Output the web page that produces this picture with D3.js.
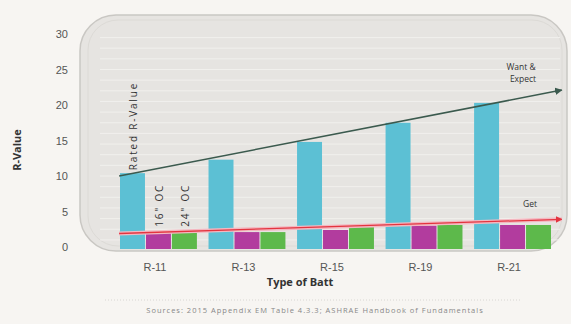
<!DOCTYPE html>
<html>
<head>
<meta charset="utf-8">
<script src="https://cdn.jsdelivr.net/npm/d3@7/dist/d3.min.js"></script>
<style>
    body { margin: 0; background: #f7f5f2; }
    svg { display: block; font-family: "Open Sans", "DejaVu Sans", sans-serif; }
    .axis text { fill: #555; font-size: 11px; }
    .axis path { display: none; }
</style>
</head>
<body>
<svg id="chart" width="571" height="324"></svg>
<script>
// categories and series
const battTypes = ["R-11", "R-13", "R-15", "R-19", "R-21"];
const seriesNames = ["Rated R-Value", "16\" OC", "24\" OC"];
const ratedValues = [10.4, 12.3, 14.8, 17.5, 20.3];
const oc16Values = [2.0, 2.1, 2.4, 3.0, 3.1];
const oc24Values = [2.0, 2.1, 2.8, 3.1, 3.1];
const yTicks = [0, 5, 10, 15, 20, 25, 30];

// trend arrows, x given as position along the category index
const wantLine = [{i: -0.45, v: 10.0}, {i: 4.55, v: 22.1}];
const getLine = [{i: -0.45, v: 1.9}, {i: 4.55, v: 3.9}];

const colors = ["#5cc0d4", "#b23c9e", "#5db94b"];

const svg = d3.select("#chart");

const x0 = d3.scaleBand()
    .domain(battTypes)
    .range([120, 552])
    .paddingInner(0.12);

const x1 = d3.scaleBand()
    .domain(seriesNames)
    .range([0, x0.bandwidth()]);

const y = d3.scaleLinear()
    .domain([0, 30])
    .range([247, 34]);

// index scale for the trend lines
const xi = d3.scaleLinear()
    .domain([0, battTypes.length - 1])
    .range([x0(battTypes[0]) + x0.bandwidth() / 2, x0(battTypes[4]) + x0.bandwidth() / 2]);

// panel
svg.append("rect")
    .attr("x", 80).attr("y", 15)
    .attr("width", 487).attr("height", 236)
    .attr("rx", 36).attr("ry", 36)
    .attr("fill", "#e6e4e1")
    .attr("stroke", "#c9c7c3")
    .attr("stroke-width", 1.5);

svg.append("rect")
    .attr("x", 88).attr("y", 20)
    .attr("width", 474).attr("height", 226)
    .attr("rx", 30).attr("ry", 30)
    .attr("fill", "none")
    .attr("stroke", "#dcdad6")
    .attr("stroke-width", 1);

// faint horizontal grid
svg.append("g")
    .selectAll("line")
    .data(d3.range(1, 30, 1.5))
    .enter()
    .append("line")
    .attr("x1", 100).attr("x2", 560)
    .attr("y1", d => y(d)).attr("y2", d => y(d))
    .attr("stroke", "#f1f0ed")
    .attr("stroke-width", 1);

// bars
const rows = battTypes.map((t, k) => ({
    type: t,
    values: [ratedValues[k], oc16Values[k], oc24Values[k]]
}));

svg.append("g")
    .selectAll("g")
    .data(rows)
    .enter()
    .append("g")
    .attr("transform", d => `translate(${x0(d.type)},0)`)
    .selectAll("rect")
    .data(d => d.values.map((v, j) => ({name: seriesNames[j], value: v, j})))
    .enter()
    .append("rect")
    .attr("x", d => x1(d.name))
    .attr("y", d => y(d.value))
    .attr("width", x1.bandwidth() - 1)
    .attr("height", d => 249 - y(d.value))
    .attr("fill", d => colors[d.j]);

// arrows
const defs = svg.append("defs");
[["arrowWant", "#3b5a4e"], ["arrowGet", "#e3343f"]].forEach(([id, c]) => {
    defs.append("marker")
        .attr("id", id)
        .attr("viewBox", "0 0 10 10")
        .attr("refX", 9).attr("refY", 5)
        .attr("markerWidth", 5).attr("markerHeight", 5)
        .attr("orient", "auto")
        .append("path")
        .attr("d", "M0,0L10,5L0,10Z")
        .attr("fill", c);
});

const line = d3.line().x(d => xi(d.i)).y(d => y(d.v));

svg.append("path")
    .datum(getLine)
    .attr("d", line)
    .attr("fill", "none")
    .attr("stroke", "#f4b7c0")
    .attr("stroke-width", 4);

svg.append("path")
    .datum(getLine)
    .attr("d", line)
    .attr("fill", "none")
    .attr("stroke", "#e3343f")
    .attr("stroke-width", 1.3)
    .attr("marker-end", "url(#arrowGet)");

svg.append("path")
    .datum(wantLine)
    .attr("d", line)
    .attr("fill", "none")
    .attr("stroke", "#3b5a4e")
    .attr("stroke-width", 1.5)
    .attr("marker-end", "url(#arrowWant)");

// axes
svg.append("g")
    .attr("class", "axis")
    .attr("transform", "translate(70,0)")
    .call(d3.axisLeft(y).tickValues(yTicks).tickSize(0).tickPadding(2));

svg.append("g")
    .attr("class", "axis")
    .attr("transform", "translate(-4,260)")
    .call(d3.axisBottom(x0).tickSize(0).tickPadding(3));

svg.append("text")
    .attr("transform", "translate(21,150) rotate(-90)")
    .attr("text-anchor", "middle")
    .attr("font-size", 11)
    .attr("font-weight", "bold")
    .attr("fill", "#333")
    .text("R-Value");

svg.append("text")
    .attr("x", 300).attr("y", 286)
    .attr("text-anchor", "middle")
    .attr("font-size", 11)
    .attr("font-weight", "bold")
    .attr("fill", "#333")
    .text("Type of Batt");

svg.append("line")
    .attr("x1", 105).attr("x2", 520)
    .attr("y1", 300).attr("y2", 300)
    .attr("stroke", "#d8d6d2")
    .attr("stroke-dasharray", "1,2");

svg.append("text")
    .attr("x", 315).attr("y", 313)
    .attr("text-anchor", "middle")
    .attr("font-size", 7.5)
    .attr("letter-spacing", 1)
    .attr("fill", "#888")
    .text("Sources: 2015 Appendix EM Table 4.3.3; ASHRAE Handbook of Fundamentals");

// series labels
const r11 = x0(battTypes[0]);
svg.append("text")
    .attr("transform", `translate(${r11 + x1(seriesNames[0]) + 17},${y(ratedValues[0]) - 3}) rotate(-90)`)
    .attr("font-size", 10)
    .attr("letter-spacing", 1.8)
    .attr("fill", "#333")
    .text("Rated R-Value");

[1, 2].forEach(j => {
    svg.append("text")
        .attr("transform", `translate(${r11 + x1(seriesNames[j]) + 17},${y(oc16Values[0]) - 6}) rotate(-90)`)
        .attr("font-size", 10)
        .attr("letter-spacing", 1.8)
        .attr("fill", "#333")
        .text(seriesNames[j]);
});

svg.append("text")
    .attr("x", 521).attr("y", 70)
    .attr("text-anchor", "middle")
    .attr("font-size", 8.5)
    .attr("fill", "#333")
    .text("Want &");
svg.append("text")
    .attr("x", 523).attr("y", 82)
    .attr("text-anchor", "middle")
    .attr("font-size", 8.5)
    .attr("fill", "#333")
    .text("Expect");

svg.append("text")
    .attr("x", 530).attr("y", 207)
    .attr("text-anchor", "middle")
    .attr("font-size", 8.5)
    .attr("fill", "#333")
    .text("Get");
</script>
</body>
</html>
